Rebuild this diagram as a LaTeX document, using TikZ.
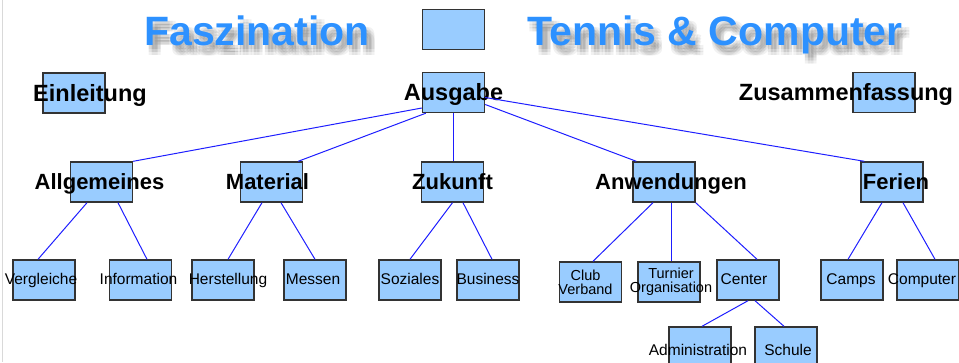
\documentclass[tikz,border=0pt]{standalone}
\usepackage{fontspec}
\setmainfont{Liberation Sans}

\definecolor{boxfill}{RGB}{153,204,255}
\definecolor{boxline}{RGB}{51,51,51}
\definecolor{linkblue}{RGB}{30,30,255}
\definecolor{titleblue}{RGB}{45,145,255}

% Text in einem Kasten ohne Breite, optional seitlich verschoben
\newcommand{\boxtext}[2][0pt]{\makebox[0pt]{\hspace*{#1}\hspace*{#1}#2}}

\begin{document}
\begin{tikzpicture}[x=1pt, y=-1pt,
        box/.style = {rectangle, draw=boxline, line width=1.4pt, fill=boxfill, minimum width=62pt, minimum height=40pt, inner sep=0pt},
        haupt/.style = {box, font=\fontsize{23.5}{28}\selectfont\bfseries, text height=16.8pt, text depth=0pt},
        thema/.style = {box, font=\fontsize{22}{26}\selectfont\bfseries, text height=15.7pt, text depth=0pt},
        unter/.style = {box, font=\fontsize{15.5}{18}\selectfont, text height=11.1pt, text depth=0pt},
        zweizeilig/.style = {box, font=\fontsize{14.5}{11}\selectfont},
        titel/.style = {font=\fontsize{41}{48}\selectfont\bfseries, text=titleblue, anchor=base, inner sep=0pt},
        link/.style = {draw=linkblue, line width=1pt}
    ]
    \useasboundingbox (0,0) rectangle (959,362);
    \draw[black!15, line width=1pt] (2.5,0) -- (2.5,362);

    % ================= TITEL =================
    \foreach \dx/\dy [count=\i] in {2/4, 5/4, 8/4, 2/7, 5/7, 8/7, 2/10, 5/10, 8/10} {
        \node[titel, text=black, opacity=0.055] (schattenA\i) at (257+\dx, 45+\dy) {Faszination};
        \node[titel, text=black, opacity=0.055] (schattenB\i) at (715+\dx, 45+\dy) {Tennis \& Computer};
    }
    \node[titel] (faszination) at (257, 45) {Faszination};
    \node[box] (titelbox) at (453.5, 29.5) {};
    \node[titel] (tenniscomp) at (715, 45) {Tennis \& Computer};

    % ================= EBENE 1 =================
    \node[haupt] (einl) at (74, 93) {\boxtext[16pt]{Einleitung}};
    \node[haupt] (aus) at (453.5, 92.5) {\boxtext{Ausgabe}};
    \node[haupt] (zus) at (884, 92.5) {\boxtext[-38pt]{Zusammenfassung}};

    % ================= EBENE 2 =================
    \node[thema] (allg) at (101.5, 182) {\boxtext[-2pt]{Allgemeines}};
    \node[thema] (mat) at (271.5, 182) {\boxtext[-4pt]{Material}};
    \node[thema] (zuk) at (452.5, 182) {\boxtext{Zukunft}};
    \node[thema] (anw) at (664, 182) {\boxtext[7pt]{Anwendungen}};
    \node[thema] (fer) at (892, 182) {\boxtext[4pt]{Ferien}};

    % ================= EBENE 3 =================
    \node[unter] (verg) at (44, 280) {\boxtext[-3pt]{\raisebox{1.5pt}{Vergleiche}}};
    \node[unter] (info) at (140.5, 280) {\boxtext[-2pt]{\raisebox{1.5pt}{Information}}};
    \node[unter] (hers) at (223, 280) {\boxtext[5pt]{\raisebox{1.5pt}{Herstellung}}};
    \node[unter] (mess) at (315, 280) {\boxtext[-2pt]{\raisebox{1.5pt}{Messen}}};
    \node[unter] (soz) at (410, 280) {\boxtext{\raisebox{1.5pt}{Soziales}}};
    \node[unter] (bus) at (488, 280) {\boxtext{\raisebox{1.5pt}{Business}}};
    \node[zweizeilig] (club) at (590.5, 282) {\boxtext[-5pt]{\shortstack{Club\\Verband}}};
    \node[zweizeilig] (turn) at (669, 282) {\boxtext[2pt]{\shortstack{Turnier\\Organisation}}};
    \node[unter] (cent) at (748, 280) {\boxtext[-4pt]{\raisebox{1.5pt}{Center}}};
    \node[unter] (camp) at (852, 280) {\boxtext[-1pt]{\raisebox{1.5pt}{Camps}}};
    \node[unter] (comp) at (928, 280) {\boxtext[-6pt]{\raisebox{1.5pt}{Computer}}};

    % ================= EBENE 4 =================
    \node[unter] (admi) at (700, 347) {\boxtext[-2pt]{\raisebox{-3pt}{Administration}}};
    \node[unter] (schu) at (786, 347) {\boxtext[2pt]{\raisebox{-3pt}{Schule}}};

    % Verbindungen
    \draw[link] ([yshift=-15.5pt]aus.west) -- (allg.north east);
    \draw[link] ([xshift=4pt]aus.south west) -- ([xshift=-5pt]mat.north east);
    \draw[link] (aus.south) -- (aus.south |- zuk.north);
    \draw[link] ([yshift=-12pt]aus.east) -- ([xshift=4pt]anw.north west);
    \draw[link] ([yshift=-5pt]aus.east) -- ([xshift=4pt]fer.north west);

    \draw[link] ([xshift=-14.5pt]allg.south) -- ([xshift=-6pt]verg.north);
    \draw[link] ([xshift=16.5pt]allg.south) -- ([xshift=6.5pt]info.north);
    \draw[link] ([xshift=-9.5pt]mat.south) -- ([xshift=5pt]hers.north);
    \draw[link] ([xshift=9.5pt]mat.south) -- (mess.north);
    \draw[link] (zuk.south) -- (soz.north);
    \draw[link] ([xshift=10.5pt]zuk.south) -- ([xshift=4pt]bus.north);
    \draw[link] ([xshift=-11pt]anw.south) -- ([xshift=2.5pt]club.north);
    \draw[link] ([xshift=7.5pt]anw.south) -- ([xshift=7.5pt]anw.south |- turn.north);
    \draw[link] (anw.south east) -- ([xshift=9pt]cent.north);
    \draw[link] ([xshift=-10pt]fer.south) -- ([xshift=-4pt]camp.north);
    \draw[link] ([xshift=11pt]fer.south) -- ([xshift=7pt]comp.north);

    \draw[link] (cent.south) -- ([xshift=2pt]admi.north);
    \draw[link] ([xshift=7pt]cent.south) -- ([xshift=-2pt]schu.north);

\end{tikzpicture}
\end{document}
